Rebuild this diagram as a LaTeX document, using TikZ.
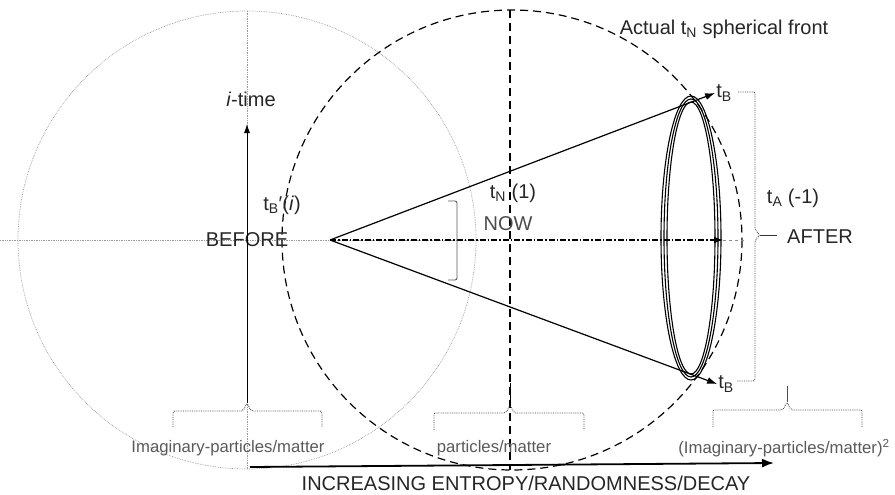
\documentclass[tikz,border=0pt]{standalone}
\usepackage{fontspec}
\setmainfont{Liberation Sans}
\usetikzlibrary{arrows.meta}
\tikzstyle{txt}=[inner sep=1pt, text=black!85, font=\fontsize{20}{23}\selectfont]
\tikzstyle{small}=[inner sep=1pt, text=black!65, font=\fontsize{16.7}{19}\selectfont]
\tikzstyle{guide}=[black!40, densely dotted, line width=0.7pt]
\tikzstyle{brace}=[black!75, densely dotted, line width=0.8pt, rounded corners=2pt]
\tikzstyle{ray}=[line width=1.2pt, -{Latex[length=10pt,width=7pt]}]
\tikzstyle{front}=[line width=1.2pt, dash pattern=on 8pt off 5pt]
\newcommand{\lbl}{\node[txt]}

\begin{document}
\begin{tikzpicture}[x=1pt,y=-1pt]
\useasboundingbox (0,0) rectangle (895,495);
\coordinate (o) at (247,240);
\coordinate (c) at (512,240);
\coordinate (apex) at (330,240);
\coordinate (ah) at (723,240);
\coordinate (lb) at (247,403);
\coordinate (it) at (247,124);
\coordinate (mb) at (510,405);
\coordinate (rb) at (787,402);
\coordinate (ea) at (250,467);
\coordinate (eb) at (774,463);
\draw[guide] (o) circle [radius=229];
\draw[guide] (0,240) -- (478,240);
\draw[guide] (247,11) -- (247,469);
\draw[front] (c) circle [radius=230];
\draw[front] (510,10) -- (510,470);
\foreach \rx/\ry in {30/142,27/139,24/136}
  \draw[line width=1.1pt] (691,238) ellipse [x radius=\rx, y radius=\ry];
\lbl (itime) at (251,99) {\textit{i}-time};
\lbl (before) at (247,240) {BEFORE};
\lbl (tbi) at (282,205) {t\textsubscript{B}′(\textit{i})};
\lbl (tn) at (513,193) {t\textsubscript{N} (1)};
\node[txt, text=black!70] (now) at (508,224) {NOW};
\lbl (ta) at (793,198) {t\textsubscript{A} (-1)};
\lbl (after) at (820,237) {AFTER};
\lbl (tbtop) at (724,93) {t\textsubscript{B}};
\lbl (tbbot) at (726,384) {t\textsubscript{B}};
\lbl (front) at (724,29) {Actual t\textsubscript{N} spherical front};
\node[small] (imag) at (228,448) {Imaginary-particles/matter};
\node[small] (part) at (494,448) {particles/matter};
\node[small] (imag2) at (784,448) {(Imaginary-particles/matter)\textsuperscript{2}};
\lbl (entropy) at (526,483) {INCREASING ENTROPY/RANDOMNESS/DECAY};
\draw[ray] (apex) -- (tbtop.west);
\draw[ray] (apex) -- (tbbot.west);
\draw[line width=1.1pt, dash pattern=on 6pt off 2pt on 1.5pt off 2pt, -{Latex[length=9pt,width=7pt]}] (apex) -- (ah);
\draw[black!45, dashed, line width=0.9pt] (ah) -- (745,240);
\draw[line width=0.8pt, -{Latex[length=9pt,width=6pt]}] (lb) -- (it);
\draw[line width=1.8pt, -{Latex[length=12pt,width=9pt]}] (ea) -- (eb);
\draw[brace] (173,427) -- (173,411) -- (243,411) -- (lb) -- (251,411) -- (322,411) -- (322,427);
\draw[brace] (434,430) -- (434,413) -- (506,413) -- (mb) -- (514,413) -- (584,413) -- (584,430);
\draw[brace] (713,427) -- (713,410) -- (783,410) -- (rb) -- (791,410) -- (862,410) -- (862,427);
\draw[line width=1pt] (mb) -- (510,383);
\draw[line width=1pt, black!70] (rb) -- (787,386);
\draw[brace] (738,92) -- (755,92) -- (755,230) -- (760,235) -- (755,240) -- (755,381) -- (737,381);
\draw[black!80, line width=0.9pt] (760,235) -- (777,235);
\draw[black!65, line width=0.9pt, rounded corners=2pt] (448,201) -- (457,201) -- (457,280) -- (448,280);
\end{tikzpicture}
\end{document}
